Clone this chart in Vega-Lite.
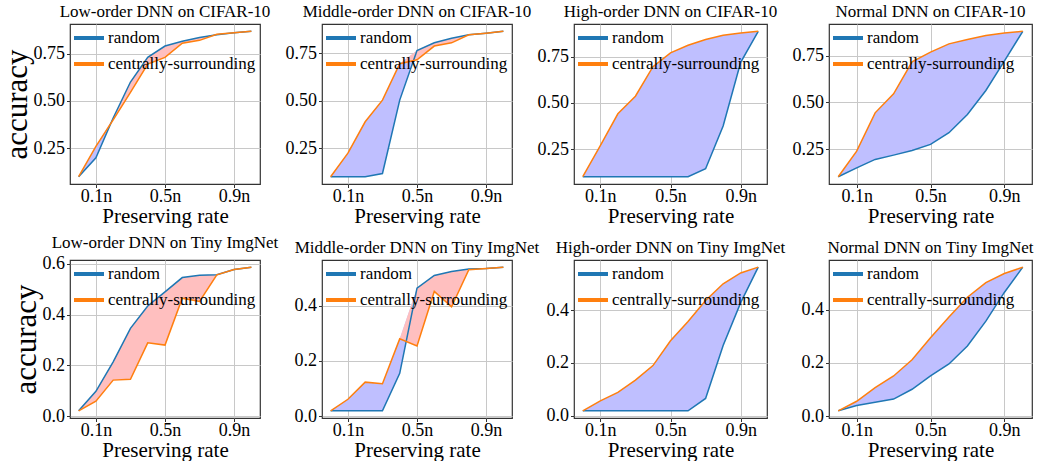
{
  "$schema": "https://vega.github.io/schema/vega-lite/v6.json",
  "padding": {"left": 0, "top": 2, "right": 2, "bottom": 0},
  "datasets": {
    "d": [
      {"p":"c_low","x":0.0,"random":0.10,"centrally-surrounding":0.10},
      {"p":"c_low","x":0.1,"random":0.20,"centrally-surrounding":0.26},
      {"p":"c_low","x":0.2,"random":0.41,"centrally-surrounding":0.40},
      {"p":"c_low","x":0.3,"random":0.60,"centrally-surrounding":0.545},
      {"p":"c_low","x":0.4,"random":0.73,"centrally-surrounding":0.695},
      {"p":"c_low","x":0.5,"random":0.79,"centrally-surrounding":0.73},
      {"p":"c_low","x":0.6,"random":0.815,"centrally-surrounding":0.805},
      {"p":"c_low","x":0.7,"random":0.835,"centrally-surrounding":0.82},
      {"p":"c_low","x":0.8,"random":0.85,"centrally-surrounding":0.852},
      {"p":"c_low","x":0.9,"random":0.86,"centrally-surrounding":0.86},
      {"p":"c_low","x":1.0,"random":0.868,"centrally-surrounding":0.868},

      {"p":"c_mid","x":0.0,"random":0.10,"centrally-surrounding":0.10},
      {"p":"c_mid","x":0.1,"random":0.10,"centrally-surrounding":0.224},
      {"p":"c_mid","x":0.2,"random":0.10,"centrally-surrounding":0.389},
      {"p":"c_mid","x":0.3,"random":0.117,"centrally-surrounding":0.503},
      {"p":"c_mid","x":0.4,"random":0.503,"centrally-surrounding":0.694},
      {"p":"c_mid","x":0.5,"random":0.764,"centrally-surrounding":0.715},
      {"p":"c_mid","x":0.6,"random":0.804,"centrally-surrounding":0.787},
      {"p":"c_mid","x":0.7,"random":0.828,"centrally-surrounding":0.804},
      {"p":"c_mid","x":0.8,"random":0.846,"centrally-surrounding":0.846},
      {"p":"c_mid","x":0.9,"random":0.855,"centrally-surrounding":0.855},
      {"p":"c_mid","x":1.0,"random":0.865,"centrally-surrounding":0.865},

      {"p":"c_high","x":0.0,"random":0.10,"centrally-surrounding":0.10},
      {"p":"c_high","x":0.1,"random":0.10,"centrally-surrounding":0.268},
      {"p":"c_high","x":0.2,"random":0.10,"centrally-surrounding":0.441},
      {"p":"c_high","x":0.3,"random":0.10,"centrally-surrounding":0.536},
      {"p":"c_high","x":0.4,"random":0.10,"centrally-surrounding":0.696},
      {"p":"c_high","x":0.5,"random":0.10,"centrally-surrounding":0.771},
      {"p":"c_high","x":0.6,"random":0.10,"centrally-surrounding":0.812},
      {"p":"c_high","x":0.7,"random":0.143,"centrally-surrounding":0.843},
      {"p":"c_high","x":0.8,"random":0.375,"centrally-surrounding":0.866},
      {"p":"c_high","x":0.9,"random":0.72,"centrally-surrounding":0.879},
      {"p":"c_high","x":1.0,"random":0.888,"centrally-surrounding":0.888},

      {"p":"c_norm","x":0.0,"random":0.105,"centrally-surrounding":0.105},
      {"p":"c_norm","x":0.1,"random":0.152,"centrally-surrounding":0.241},
      {"p":"c_norm","x":0.2,"random":0.197,"centrally-surrounding":0.445},
      {"p":"c_norm","x":0.3,"random":0.22,"centrally-surrounding":0.546},
      {"p":"c_norm","x":0.4,"random":0.245,"centrally-surrounding":0.716},
      {"p":"c_norm","x":0.5,"random":0.277,"centrally-surrounding":0.768},
      {"p":"c_norm","x":0.6,"random":0.339,"centrally-surrounding":0.812},
      {"p":"c_norm","x":0.7,"random":0.436,"centrally-surrounding":0.835},
      {"p":"c_norm","x":0.8,"random":0.564,"centrally-surrounding":0.856},
      {"p":"c_norm","x":0.9,"random":0.72,"centrally-surrounding":0.87},
      {"p":"c_norm","x":1.0,"random":0.879,"centrally-surrounding":0.879},

      {"p":"t_low","x":0.0,"random":0.021,"centrally-surrounding":0.021},
      {"p":"t_low","x":0.1,"random":0.098,"centrally-surrounding":0.059},
      {"p":"t_low","x":0.2,"random":0.214,"centrally-surrounding":0.142},
      {"p":"t_low","x":0.3,"random":0.346,"centrally-surrounding":0.145},
      {"p":"t_low","x":0.4,"random":0.434,"centrally-surrounding":0.289},
      {"p":"t_low","x":0.5,"random":0.49,"centrally-surrounding":0.28},
      {"p":"t_low","x":0.6,"random":0.546,"centrally-surrounding":0.465},
      {"p":"t_low","x":0.7,"random":0.555,"centrally-surrounding":0.452},
      {"p":"t_low","x":0.8,"random":0.557,"centrally-surrounding":0.557},
      {"p":"t_low","x":0.9,"random":0.578,"centrally-surrounding":0.578},
      {"p":"t_low","x":1.0,"random":0.587,"centrally-surrounding":0.587},

      {"p":"t_mid","x":0.0,"random":0.019,"centrally-surrounding":0.019},
      {"p":"t_mid","x":0.1,"random":0.019,"centrally-surrounding":0.061},
      {"p":"t_mid","x":0.2,"random":0.019,"centrally-surrounding":0.123},
      {"p":"t_mid","x":0.3,"random":0.019,"centrally-surrounding":0.117},
      {"p":"t_mid","x":0.4,"random":0.155,"centrally-surrounding":0.28},
      {"p":"t_mid","x":0.5,"random":0.464,"centrally-surrounding":0.254},
      {"p":"t_mid","x":0.6,"random":0.51,"centrally-surrounding":0.452},
      {"p":"t_mid","x":0.7,"random":0.524,"centrally-surrounding":0.396},
      {"p":"t_mid","x":0.8,"random":0.533,"centrally-surrounding":0.531},
      {"p":"t_mid","x":0.9,"random":0.535,"centrally-surrounding":0.535},
      {"p":"t_mid","x":1.0,"random":0.54,"centrally-surrounding":0.54},

      {"p":"t_high","x":0.0,"random":0.019,"centrally-surrounding":0.019},
      {"p":"t_high","x":0.1,"random":0.019,"centrally-surrounding":0.057},
      {"p":"t_high","x":0.2,"random":0.019,"centrally-surrounding":0.089},
      {"p":"t_high","x":0.3,"random":0.019,"centrally-surrounding":0.135},
      {"p":"t_high","x":0.4,"random":0.019,"centrally-surrounding":0.19},
      {"p":"t_high","x":0.5,"random":0.019,"centrally-surrounding":0.284},
      {"p":"t_high","x":0.6,"random":0.019,"centrally-surrounding":0.357},
      {"p":"t_high","x":0.7,"random":0.066,"centrally-surrounding":0.436},
      {"p":"t_high","x":0.8,"random":0.266,"centrally-surrounding":0.499},
      {"p":"t_high","x":0.9,"random":0.428,"centrally-surrounding":0.54},
      {"p":"t_high","x":1.0,"random":0.562,"centrally-surrounding":0.562},

      {"p":"t_norm","x":0.0,"random":0.02,"centrally-surrounding":0.02},
      {"p":"t_norm","x":0.1,"random":0.04,"centrally-surrounding":0.056},
      {"p":"t_norm","x":0.2,"random":0.052,"centrally-surrounding":0.107},
      {"p":"t_norm","x":0.3,"random":0.064,"centrally-surrounding":0.151},
      {"p":"t_norm","x":0.4,"random":0.101,"centrally-surrounding":0.212},
      {"p":"t_norm","x":0.5,"random":0.151,"centrally-surrounding":0.295},
      {"p":"t_norm","x":0.6,"random":0.196,"centrally-surrounding":0.373},
      {"p":"t_norm","x":0.7,"random":0.264,"centrally-surrounding":0.447},
      {"p":"t_norm","x":0.8,"random":0.357,"centrally-surrounding":0.502},
      {"p":"t_norm","x":0.9,"random":0.465,"centrally-surrounding":0.536},
      {"p":"t_norm","x":1.0,"random":0.56,"centrally-surrounding":0.56}
    ]
  },
  "data": {"name": "d"},
  "columns": 4,
  "spacing": {"row": 76, "column": 62},
  "bounds": "flush",
  "align": "each",
  "resolve": {"scale": {"color": "independent", "x": "independent", "y": "independent"}, "legend": {"color": "independent"}},
  "concat": [
    {
      "title": "Low-order DNN on CIFAR-10", "width": 190, "height": 160,
      "transform": [{"filter": "datum.p === 'c_low'"}, {"fold": ["random", "centrally-surrounding"], "as": ["method", "acc"]}, {"joinaggregate": [{"op": "max", "field": "acc", "as": "hi"}], "groupby": ["x"]}],
      "encoding": {
        "x": {"field": "x", "type": "quantitative", "scale": {"domain": [-0.05, 1.05]}, "axis": {"values": [0.1, 0.5, 0.9], "labelExpr": "format(datum.value, '.1f') + 'n'", "title": "Preserving rate"}},
        "y": {"field": "acc", "type": "quantitative", "scale": {"domain": [0.0616, 0.9064]}, "axis": {"values": [0.25, 0.5, 0.75], "format": ".2f", "title": "accuracy"}}
      },
      "layer": [
        {"transform": [{"filter": "datum.method === 'random'"}], "mark": {"type": "area", "color": "#bfbfff"}, "encoding": {"y2": {"field": "hi"}}},
        {"transform": [{"filter": "datum.method === 'centrally-surrounding'"}], "mark": {"type": "area", "color": "#ffbfbf"}, "encoding": {"y2": {"field": "hi"}}},
        {"mark": {"type": "line", "strokeWidth": 1.5}, "encoding": {"color": {"field": "method", "type": "nominal", "scale": {"domain": ["random", "centrally-surrounding"], "range": ["#1f77b4", "#ff7f0e"]}, "legend": {"title": null}}}}
      ]
    },
    {
      "title": "Middle-order DNN on CIFAR-10", "width": 190, "height": 160,
      "transform": [{"filter": "datum.p === 'c_mid'"}, {"fold": ["random", "centrally-surrounding"], "as": ["method", "acc"]}, {"joinaggregate": [{"op": "max", "field": "acc", "as": "hi"}], "groupby": ["x"]}],
      "encoding": {
        "x": {"field": "x", "type": "quantitative", "scale": {"domain": [-0.05, 1.05]}, "axis": {"values": [0.1, 0.5, 0.9], "labelExpr": "format(datum.value, '.1f') + 'n'", "title": "Preserving rate"}},
        "y": {"field": "acc", "type": "quantitative", "scale": {"domain": [0.062, 0.903]}, "axis": {"values": [0.25, 0.5, 0.75], "format": ".2f", "title": null}}
      },
      "layer": [
        {"transform": [{"filter": "datum.method === 'random'"}], "mark": {"type": "area", "color": "#bfbfff"}, "encoding": {"y2": {"field": "hi"}}},
        {"transform": [{"filter": "datum.method === 'centrally-surrounding'"}], "mark": {"type": "area", "color": "#ffbfbf"}, "encoding": {"y2": {"field": "hi"}}},
        {"mark": {"type": "line", "strokeWidth": 1.5}, "encoding": {"color": {"field": "method", "type": "nominal", "scale": {"domain": ["random", "centrally-surrounding"], "range": ["#1f77b4", "#ff7f0e"]}, "legend": {"title": null}}}}
      ]
    },
    {
      "title": "High-order DNN on CIFAR-10", "width": 193, "height": 160,
      "transform": [{"filter": "datum.p === 'c_high'"}, {"fold": ["random", "centrally-surrounding"], "as": ["method", "acc"]}, {"joinaggregate": [{"op": "max", "field": "acc", "as": "hi"}], "groupby": ["x"]}],
      "encoding": {
        "x": {"field": "x", "type": "quantitative", "scale": {"domain": [-0.05, 1.05]}, "axis": {"values": [0.1, 0.5, 0.9], "labelExpr": "format(datum.value, '.1f') + 'n'", "title": "Preserving rate"}},
        "y": {"field": "acc", "type": "quantitative", "scale": {"domain": [0.0606, 0.9274]}, "axis": {"values": [0.25, 0.5, 0.75], "format": ".2f", "title": null}}
      },
      "layer": [
        {"transform": [{"filter": "datum.method === 'random'"}], "mark": {"type": "area", "color": "#bfbfff"}, "encoding": {"y2": {"field": "hi"}}},
        {"transform": [{"filter": "datum.method === 'centrally-surrounding'"}], "mark": {"type": "area", "color": "#ffbfbf"}, "encoding": {"y2": {"field": "hi"}}},
        {"mark": {"type": "line", "strokeWidth": 1.5}, "encoding": {"color": {"field": "method", "type": "nominal", "scale": {"domain": ["random", "centrally-surrounding"], "range": ["#1f77b4", "#ff7f0e"]}, "legend": {"title": null}}}}
      ]
    },
    {
      "title": "Normal DNN on CIFAR-10", "width": 203, "height": 160,
      "transform": [{"filter": "datum.p === 'c_norm'"}, {"fold": ["random", "centrally-surrounding"], "as": ["method", "acc"]}, {"joinaggregate": [{"op": "max", "field": "acc", "as": "hi"}], "groupby": ["x"]}],
      "encoding": {
        "x": {"field": "x", "type": "quantitative", "scale": {"domain": [-0.05, 1.05]}, "axis": {"values": [0.1, 0.5, 0.9], "labelExpr": "format(datum.value, '.1f') + 'n'", "title": "Preserving rate"}},
        "y": {"field": "acc", "type": "quantitative", "scale": {"domain": [0.0663, 0.9177]}, "axis": {"values": [0.25, 0.5, 0.75], "format": ".2f", "title": null}}
      },
      "layer": [
        {"transform": [{"filter": "datum.method === 'random'"}], "mark": {"type": "area", "color": "#bfbfff"}, "encoding": {"y2": {"field": "hi"}}},
        {"transform": [{"filter": "datum.method === 'centrally-surrounding'"}], "mark": {"type": "area", "color": "#ffbfbf"}, "encoding": {"y2": {"field": "hi"}}},
        {"mark": {"type": "line", "strokeWidth": 1.5}, "encoding": {"color": {"field": "method", "type": "nominal", "scale": {"domain": ["random", "centrally-surrounding"], "range": ["#1f77b4", "#ff7f0e"]}, "legend": {"title": null}}}}
      ]
    },
    {
      "title": "Low-order DNN on Tiny ImgNet", "width": 190, "height": 158,
      "transform": [{"filter": "datum.p === 't_low'"}, {"fold": ["random", "centrally-surrounding"], "as": ["method", "acc"]}, {"joinaggregate": [{"op": "max", "field": "acc", "as": "hi"}], "groupby": ["x"]}],
      "encoding": {
        "x": {"field": "x", "type": "quantitative", "scale": {"domain": [-0.05, 1.05]}, "axis": {"values": [0.1, 0.5, 0.9], "labelExpr": "format(datum.value, '.1f') + 'n'", "title": "Preserving rate"}},
        "y": {"field": "acc", "type": "quantitative", "scale": {"domain": [-0.0073, 0.6153]}, "axis": {"values": [0, 0.2, 0.4, 0.6], "format": ".1f", "title": "accuracy"}}
      },
      "layer": [
        {"transform": [{"filter": "datum.method === 'random'"}], "mark": {"type": "area", "color": "#bfbfff"}, "encoding": {"y2": {"field": "hi"}}},
        {"transform": [{"filter": "datum.method === 'centrally-surrounding'"}], "mark": {"type": "area", "color": "#ffbfbf"}, "encoding": {"y2": {"field": "hi"}}},
        {"mark": {"type": "line", "strokeWidth": 1.5}, "encoding": {"color": {"field": "method", "type": "nominal", "scale": {"domain": ["random", "centrally-surrounding"], "range": ["#1f77b4", "#ff7f0e"]}, "legend": {"title": null}}}}
      ]
    },
    {
      "title": "Middle-order DNN on Tiny ImgNet", "width": 190, "height": 158,
      "transform": [{"filter": "datum.p === 't_mid'"}, {"fold": ["random", "centrally-surrounding"], "as": ["method", "acc"]}, {"joinaggregate": [{"op": "max", "field": "acc", "as": "hi"}], "groupby": ["x"]}],
      "encoding": {
        "x": {"field": "x", "type": "quantitative", "scale": {"domain": [-0.05, 1.05]}, "axis": {"values": [0.1, 0.5, 0.9], "labelExpr": "format(datum.value, '.1f') + 'n'", "title": "Preserving rate"}},
        "y": {"field": "acc", "type": "quantitative", "scale": {"domain": [-0.007, 0.566]}, "axis": {"values": [0, 0.2, 0.4], "format": ".1f", "title": null}}
      },
      "layer": [
        {"transform": [{"filter": "datum.method === 'random'"}], "mark": {"type": "area", "color": "#bfbfff"}, "encoding": {"y2": {"field": "hi"}}},
        {"transform": [{"filter": "datum.method === 'centrally-surrounding'"}], "mark": {"type": "area", "color": "#ffbfbf"}, "encoding": {"y2": {"field": "hi"}}},
        {"mark": {"type": "line", "strokeWidth": 1.5}, "encoding": {"color": {"field": "method", "type": "nominal", "scale": {"domain": ["random", "centrally-surrounding"], "range": ["#1f77b4", "#ff7f0e"]}, "legend": {"title": null}}}}
      ]
    },
    {
      "title": "High-order DNN on Tiny ImgNet", "width": 193, "height": 158,
      "transform": [{"filter": "datum.p === 't_high'"}, {"fold": ["random", "centrally-surrounding"], "as": ["method", "acc"]}, {"joinaggregate": [{"op": "max", "field": "acc", "as": "hi"}], "groupby": ["x"]}],
      "encoding": {
        "x": {"field": "x", "type": "quantitative", "scale": {"domain": [-0.05, 1.05]}, "axis": {"values": [0.1, 0.5, 0.9], "labelExpr": "format(datum.value, '.1f') + 'n'", "title": "Preserving rate"}},
        "y": {"field": "acc", "type": "quantitative", "scale": {"domain": [-0.008, 0.589]}, "axis": {"values": [0, 0.2, 0.4], "format": ".1f", "title": null}}
      },
      "layer": [
        {"transform": [{"filter": "datum.method === 'random'"}], "mark": {"type": "area", "color": "#bfbfff"}, "encoding": {"y2": {"field": "hi"}}},
        {"transform": [{"filter": "datum.method === 'centrally-surrounding'"}], "mark": {"type": "area", "color": "#ffbfbf"}, "encoding": {"y2": {"field": "hi"}}},
        {"mark": {"type": "line", "strokeWidth": 1.5}, "encoding": {"color": {"field": "method", "type": "nominal", "scale": {"domain": ["random", "centrally-surrounding"], "range": ["#1f77b4", "#ff7f0e"]}, "legend": {"title": null}}}}
      ]
    },
    {
      "title": "Normal DNN on Tiny ImgNet", "width": 203, "height": 158,
      "transform": [{"filter": "datum.p === 't_norm'"}, {"fold": ["random", "centrally-surrounding"], "as": ["method", "acc"]}, {"joinaggregate": [{"op": "max", "field": "acc", "as": "hi"}], "groupby": ["x"]}],
      "encoding": {
        "x": {"field": "x", "type": "quantitative", "scale": {"domain": [-0.05, 1.05]}, "axis": {"values": [0.1, 0.5, 0.9], "labelExpr": "format(datum.value, '.1f') + 'n'", "title": "Preserving rate"}},
        "y": {"field": "acc", "type": "quantitative", "scale": {"domain": [-0.007, 0.587]}, "axis": {"values": [0, 0.2, 0.4], "format": ".1f", "title": null}}
      },
      "layer": [
        {"transform": [{"filter": "datum.method === 'random'"}], "mark": {"type": "area", "color": "#bfbfff"}, "encoding": {"y2": {"field": "hi"}}},
        {"transform": [{"filter": "datum.method === 'centrally-surrounding'"}], "mark": {"type": "area", "color": "#ffbfbf"}, "encoding": {"y2": {"field": "hi"}}},
        {"mark": {"type": "line", "strokeWidth": 1.5}, "encoding": {"color": {"field": "method", "type": "nominal", "scale": {"domain": ["random", "centrally-surrounding"], "range": ["#1f77b4", "#ff7f0e"]}, "legend": {"title": null}}}}
      ]
    }
  ],
  "config": {
    "font": "Liberation Serif",
    "view": {"stroke": "#333333", "strokeWidth": 1.2},
    "axis": {"labelFont": "Liberation Serif", "labelFontSize": 18, "labelColor": "#000000", "titleFont": "Liberation Serif", "titleFontWeight": "normal", "titleColor": "#000000", "gridColor": "#c8c8c8", "gridOpacity": 1, "domain": false, "ticks": true, "tickColor": "#333333", "tickSize": 3.5, "labelPadding": 2},
    "axisX": {"titleFontSize": 21, "titlePadding": 0, "labelPadding": 0},
    "axisY": {"titleFontSize": 31, "titlePadding": 0},
    "title": {"font": "Liberation Serif", "fontSize": 17, "fontWeight": "normal", "color": "#000000", "offset": 3},
    "legend": {"orient": "none", "legendX": 7, "legendY": 2, "padding": 0, "labelFont": "Liberation Serif", "labelFontSize": 17, "labelColor": "#000000", "symbolType": "M-1.5,0H1.5", "symbolSize": 400, "symbolStrokeWidth": 4, "labelOffset": 7, "rowPadding": 6}
  }
}
